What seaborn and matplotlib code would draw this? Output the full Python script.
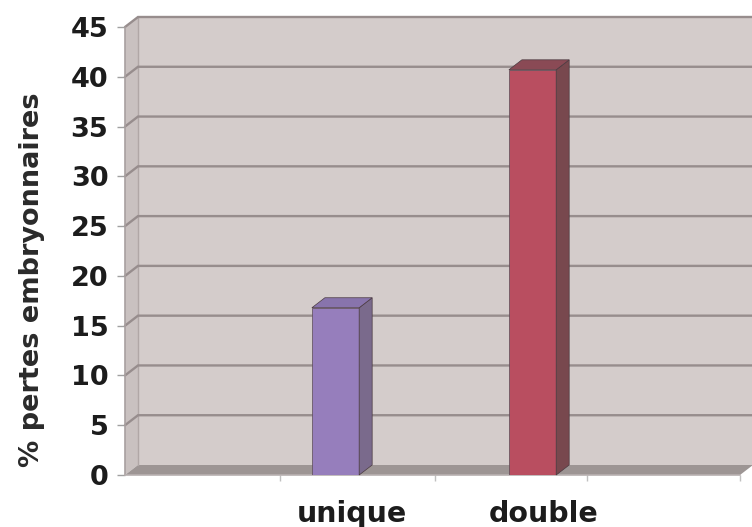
import matplotlib
matplotlib.use("Agg")
import matplotlib.pyplot as plt
import seaborn as sns
import pandas as pd
from matplotlib.patches import Polygon

# Embryo losses by type of insemination
categories = ["unique", "double"]
values = [16.8, 40.7]
y_ticks = [0, 5, 10, 15, 20, 25, 30, 35, 40, 45]
y_label = "% pertes embryonnaires"

front_colors = ["#967ebc", "#b94e60"]
side_colors = ["#7a6a8c", "#78484e"]
top_colors = ["#8874ac", "#8a4a55"]

WALL = "#d4cccb"
SIDE_WALL = "#c9c1c0"
FLOOR = "#9d9594"
GRID = "#978d8d"
TEXT = "#1c1c1c"

sns.set_theme(style="white")
plt.rcParams["font.family"] = ["DejaVu Sans"]

W, H = 752, 527
fig = plt.figure(figsize=(W / 100, H / 100), dpi=100)
ax = fig.add_axes([125 / W, 52 / H, 615 / W, 448 / H])

df = pd.DataFrame({"insemination": categories, "pertes": values})
sns.barplot(data=df, x="insemination", y="pertes", hue="insemination",
            palette=front_colors, width=0.24, saturation=1, legend=False,
            edgecolor="#5a4a55", linewidth=0.5, ax=ax, zorder=4)
bars = list(ax.patches)

x0, x1 = -1.0685, 2.053
y0, y1 = y_ticks[0], y_ticks[-1]
ax.set_xlim(x0, x1)
ax.set_ylim(y0, y1)

# depth of the 3-D box, 13 px right and 10 px up, in data units
bbox = ax.get_window_extent()
dx = 13 * (x1 - x0) / bbox.width
dy = 10 * (y1 - y0) / bbox.height

def poly(pts, color, z, ec="none", lw=0):
    ax.add_patch(Polygon(pts, closed=True, facecolor=color, edgecolor=ec,
                         linewidth=lw, zorder=z, clip_on=False))

# back wall, left wall and floor
poly([(x0 + dx, y0 + dy), (x1 + dx, y0 + dy), (x1 + dx, y1 + dy), (x0 + dx, y1 + dy)], WALL, 0.5)
poly([(x0, y0), (x0 + dx, y0 + dy), (x0 + dx, y1 + dy), (x0, y1)], SIDE_WALL, 0.6)
poly([(x0, y0), (x1, y0), (x1 + dx, y0 + dy), (x0 + dx, y0 + dy)], FLOOR, 0.7)
ax.plot([x0 + dx, x0 + dx], [y0 + dy, y1 + dy], color="#b0a7a6", lw=1, zorder=0.8, clip_on=False)

for v in y_ticks[1:]:
    ax.plot([x0, x0 + dx, x1 + dx], [v, v + dy, v + dy], color=GRID, lw=1.7,
            zorder=1, clip_on=False, solid_joinstyle="miter")

# side and top faces of every column
for bar, sc, tc in zip(bars, side_colors, top_colors):
    bx, bw, bh = bar.get_x(), bar.get_width(), bar.get_height()
    poly([(bx + bw, 0), (bx + bw + dx, dy), (bx + bw + dx, bh + dy), (bx + bw, bh)], sc, 4, "#4a3a40", 0.5)
    poly([(bx, bh), (bx + bw, bh), (bx + bw + dx, bh + dy), (bx + dx, bh + dy)], tc, 4, "#4a3a40", 0.5)

# axes lines
ax.plot([x0, x0], [y0, y1], color="#a8a0a0", lw=1.2, zorder=2, clip_on=False)
ax.plot([x0, x1], [y0, y0], color="#b8b0b0", lw=1.2, zorder=2, clip_on=False)
for s in ax.spines.values():
    s.set_visible(False)
ax.set_facecolor("none")

# y axis
ax.set_yticks(y_ticks)
ax.set_yticklabels([str(t) for t in y_ticks], fontsize=19.5, fontweight="bold", color=TEXT)
ax.tick_params(axis="y", left=True, length=6, width=1, color="#a0a0a0", pad=6)
ax.set_ylabel(y_label, fontsize=19.5, fontweight="bold", color="#2a2a2a")
ax.yaxis.set_label_coords(-0.130, 0.435)

# x axis: labels under the columns, small separator marks on the floor edge
ax.set_xticks([0.085, 1.055])
ax.set_xticklabels(categories, fontsize=20.5, fontweight="bold", color=TEXT)
ax.tick_params(axis="x", bottom=False, length=0, pad=18)
ax.set_xticks([-0.282, 0.505, 1.277, 2.053], minor=True)
ax.tick_params(axis="x", which="minor", bottom=True, length=4, width=1, color="#c0c0c0")
ax.set_xlabel("")

fig.savefig("out.png", dpi=100, facecolor="white")
